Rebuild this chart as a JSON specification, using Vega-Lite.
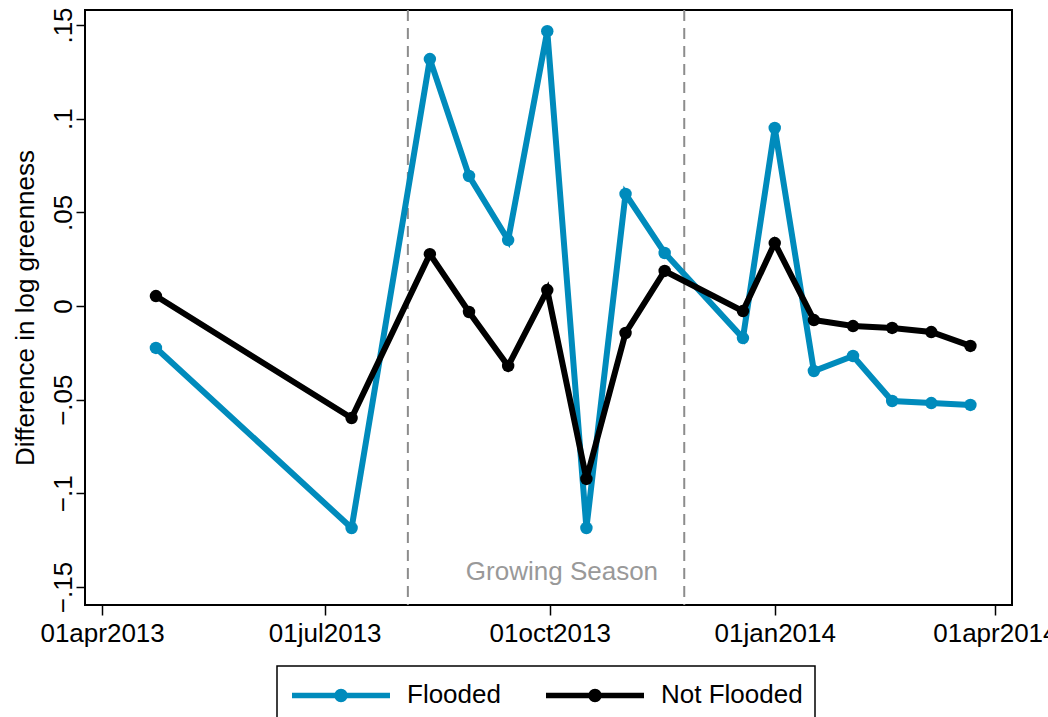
{
  "$schema": "https://vega.github.io/schema/vega-lite/v6.json",
  "width": 927,
  "height": 595,
  "autosize": {"type": "none"},
  "padding": {"left": 85, "top": 10, "right": 36, "bottom": 112},
  "background": "white",
  "config": {
    "font": "Liberation Sans",
    "view": {"stroke": "#000000", "strokeWidth": 2},
    "axisX": {
      "grid": false, "domain": false,
      "labelFont": "Liberation Sans", "labelFontSize": 26, "labelColor": "#000000",
      "tickColor": "#000000", "tickWidth": 1.5, "tickSize": 10, "labelPadding": 5,
      "labelFlush": false, "labelOverlap": false
    },
    "axisY": {
      "grid": false, "domain": false,
      "labelAngle": 270, "labelAlign": "center", "labelBaseline": "alphabetic",
      "labelFont": "Liberation Sans", "labelFontSize": 26, "labelColor": "#000000", "labelPadding": 5,
      "tickColor": "#000000", "tickWidth": 1.5, "tickSize": 9,
      "titleFont": "Liberation Sans", "titleFontSize": 26, "titleFontWeight": "normal", "titleColor": "#000000",
      "titleAngle": 270, "titleAlign": "center", "titleBaseline": "alphabetic",
      "titleX": -52, "titleY": 297.5,
      "labelFlush": false, "labelOverlap": false
    }
  },
  "datasets": {
    "series": [
      {"date": "2013-04-23", "group": "Flooded", "value": -0.0224},
      {"date": "2013-07-12", "group": "Flooded", "value": -0.1185},
      {"date": "2013-08-13", "group": "Flooded", "value": 0.1318},
      {"date": "2013-08-29", "group": "Flooded", "value": 0.0694},
      {"date": "2013-09-14", "group": "Flooded", "value": 0.0352},
      {"date": "2013-09-30", "group": "Flooded", "value": 0.1467},
      {"date": "2013-10-16", "group": "Flooded", "value": -0.1185},
      {"date": "2013-11-01", "group": "Flooded", "value": 0.0598},
      {"date": "2013-11-17", "group": "Flooded", "value": 0.0283},
      {"date": "2013-12-19", "group": "Flooded", "value": -0.0171},
      {"date": "2014-01-01", "group": "Flooded", "value": 0.095},
      {"date": "2014-01-17", "group": "Flooded", "value": -0.0347},
      {"date": "2014-02-02", "group": "Flooded", "value": -0.0267},
      {"date": "2014-02-18", "group": "Flooded", "value": -0.0507},
      {"date": "2014-03-06", "group": "Flooded", "value": -0.0518},
      {"date": "2014-03-22", "group": "Flooded", "value": -0.0528},
      {"date": "2013-04-23", "group": "Not Flooded", "value": 0.0053},
      {"date": "2013-07-12", "group": "Not Flooded", "value": -0.0598},
      {"date": "2013-08-13", "group": "Not Flooded", "value": 0.0277},
      {"date": "2013-08-29", "group": "Not Flooded", "value": -0.0032},
      {"date": "2013-09-14", "group": "Not Flooded", "value": -0.032},
      {"date": "2013-09-30", "group": "Not Flooded", "value": 0.0085},
      {"date": "2013-10-16", "group": "Not Flooded", "value": -0.0923},
      {"date": "2013-11-01", "group": "Not Flooded", "value": -0.0144},
      {"date": "2013-11-17", "group": "Not Flooded", "value": 0.0187},
      {"date": "2013-12-19", "group": "Not Flooded", "value": -0.0027},
      {"date": "2014-01-01", "group": "Not Flooded", "value": 0.0336},
      {"date": "2014-01-17", "group": "Not Flooded", "value": -0.0075},
      {"date": "2014-02-02", "group": "Not Flooded", "value": -0.0107},
      {"date": "2014-02-18", "group": "Not Flooded", "value": -0.0117},
      {"date": "2014-03-06", "group": "Not Flooded", "value": -0.0139},
      {"date": "2014-03-22", "group": "Not Flooded", "value": -0.0213}
    ],
    "season": [
      {"date": "2013-08-04"},
      {"date": "2013-11-25"}
    ],
    "note": [
      {"date": "2013-10-06", "value": -0.142, "label": "Growing Season"}
    ]
  },
  "encoding": {
    "x": {
      "field": "date", "type": "temporal",
      "scale": {"type": "utc", "domain": [{"year": 2013, "month": 3, "date": 25, "utc": true}, {"year": 2014, "month": 4, "date": 8, "utc": true}], "nice": false},
      "axis": {
        "title": null,
        "values": [
          {"year": 2013, "month": 4, "date": 1, "utc": true},
          {"year": 2013, "month": 7, "date": 1, "utc": true},
          {"year": 2013, "month": 10, "date": 1, "utc": true},
          {"year": 2014, "month": 1, "date": 1, "utc": true},
          {"year": 2014, "month": 4, "date": 1, "utc": true}
        ],
        "labelExpr": "lower(utcFormat(datum.value, '%d%b%Y'))"
      }
    }
  },
  "layer": [
    {
      "data": {"name": "season"},
      "mark": {"type": "rule", "stroke": "#8c8c8c", "strokeWidth": 2, "strokeDash": [11, 7]},
      "encoding": {}
    },
    {
      "data": {"name": "note"},
      "mark": {"type": "text", "font": "Liberation Sans", "fontSize": 26, "color": "#999999", "align": "center", "baseline": "middle"},
      "encoding": {
        "y": {
          "field": "value", "type": "quantitative",
          "scale": {"domain": [-0.1596, 0.158], "nice": false, "zero": false},
          "axis": {
            "title": "Difference in log greenness",
            "values": [-0.15, -0.1, -0.05, 0, 0.05, 0.1, 0.15],
            "labelExpr": "replace(format(datum.value, '.2~f'), '0.', '.')"
          }
        },
        "text": {"field": "label"}
      }
    },
    {
      "data": {"name": "series"},
      "mark": {"type": "line", "strokeWidth": 6},
      "encoding": {
        "y": {
          "field": "value", "type": "quantitative",
          "scale": {"domain": [-0.1596, 0.158], "nice": false, "zero": false},
          "axis": {
            "title": "Difference in log greenness",
            "values": [-0.15, -0.1, -0.05, 0, 0.05, 0.1, 0.15],
            "labelExpr": "replace(format(datum.value, '.2~f'), '0.', '.')"
          }
        },
        "color": {
          "field": "group", "type": "nominal",
          "scale": {"domain": ["Flooded", "Not Flooded"], "range": ["#008bbc", "#000000"]},
          "legend": {
            "title": null, "orient": "none", "legendX": 192, "legendY": 656, "direction": "horizontal",
            "symbolType": "M-1,0L6,0M2.79,0A0.29,0.29,0,1,1,2.21,0A0.29,0.29,0,1,1,2.79,0Z",
            "symbolSize": 784, "symbolStrokeWidth": 5.5,
            "labelFont": "Liberation Sans", "labelFontSize": 26, "labelColor": "#000000",
            "labelOffset": 84, "columnPadding": 34, "padding": 12,
            "strokeColor": "#000000",
            "encode": {
              "symbols": {"update": {
                "fill": {"scale": "color", "field": "value"},
                "stroke": {"scale": "color", "field": "value"},
                "strokeWidth": {"value": 5.5},
                "opacity": {"value": 1}
              }},
              "legend": {"update": {"strokeWidth": {"value": 1.5}}}
            }
          }
        }
      }
    },
    {
      "data": {"name": "series"},
      "mark": {"type": "point", "filled": true, "shape": "circle", "size": 155, "opacity": 1},
      "encoding": {
        "y": {
          "field": "value", "type": "quantitative",
          "scale": {"domain": [-0.1596, 0.158], "nice": false, "zero": false},
          "axis": {
            "title": "Difference in log greenness",
            "values": [-0.15, -0.1, -0.05, 0, 0.05, 0.1, 0.15],
            "labelExpr": "replace(format(datum.value, '.2~f'), '0.', '.')"
          }
        },
        "color": {"field": "group", "type": "nominal", "legend": null}
      }
    }
  ]
}
